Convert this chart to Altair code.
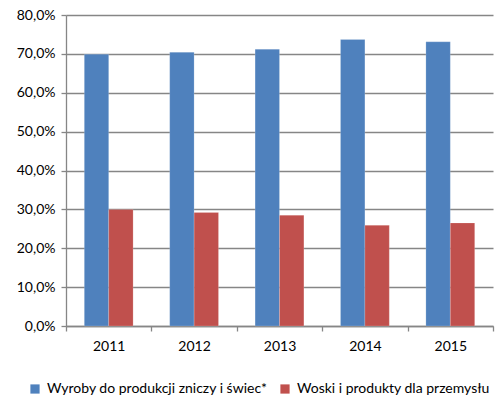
import altair as alt
import pandas as pd

years = ["2011", "2012", "2013", "2014", "2015"]
series_names = ["Wyroby do produkcji zniczy i świec*", "Woski i produkty dla przemysłu"]
candles = [69.9, 70.4, 71.2, 73.7, 73.1]
waxes = [30.0, 29.2, 28.5, 25.9, 26.5]
colors = ["#4F81BD", "#C0504D"]

rows = []
for y, a, b in zip(years, candles, waxes):
    rows.append({"rok": y, "seria": series_names[0], "udzial": a / 100})
    rows.append({"rok": y, "seria": series_names[1], "udzial": b / 100})
df = pd.DataFrame(rows)

FONT = "Lato"

chart = alt.Chart(df).mark_bar(stroke="white", strokeOpacity=0.35, strokeWidth=0.5).encode(
    x=alt.X("rok:N", title=None,
            scale=alt.Scale(paddingInner=0, paddingOuter=0),
            axis=alt.Axis(labelAngle=0, tickBand="extent", domainColor="#868686",
                          tickColor="#868686", tickSize=5, labelPadding=8,
                          labelFontSize=14, labelColor="#000000", labelFont=FONT)),
    xOffset=alt.XOffset("seria:N", sort=series_names,
                        scale=alt.Scale(paddingInner=0, paddingOuter=0.75)),
    y=alt.Y("udzial:Q", title=None,
            scale=alt.Scale(domain=[0, 0.8], nice=False),
            axis=alt.Axis(values=[i / 10 for i in range(9)],
                          labelExpr="replace(format(datum.value, '.1%'), '.', ',')",
                          grid=True, gridColor="#868686", gridWidth=1.3,
                          domainColor="#868686", tickColor="#868686", tickSize=5,
                          labelPadding=6, labelFontSize=14, labelColor="#000000",
                          labelFont=FONT)),
    color=alt.Color("seria:N", sort=series_names,
                    scale=alt.Scale(domain=series_names, range=colors),
                    legend=alt.Legend(title=None, orient="none", direction="horizontal",
                                      legendX=-38, legendY=367,
                                      symbolType="square", symbolSize=85,
                                      symbolStrokeWidth=0, labelFontSize=14,
                                      labelFont=FONT, labelColor="#000000",
                                      labelOffset=5, columnPadding=10, labelLimit=400)),
).properties(
    width=427, height=311,
    autosize=alt.AutoSizeParams(type="none"),
    padding={"left": 66, "top": 15, "right": 3, "bottom": 75},
).configure_view(stroke=None).configure_axis(domainWidth=1.3, tickWidth=1.3)

chart.save("out.html", embed_options={"renderer": "svg", "actions": False})
